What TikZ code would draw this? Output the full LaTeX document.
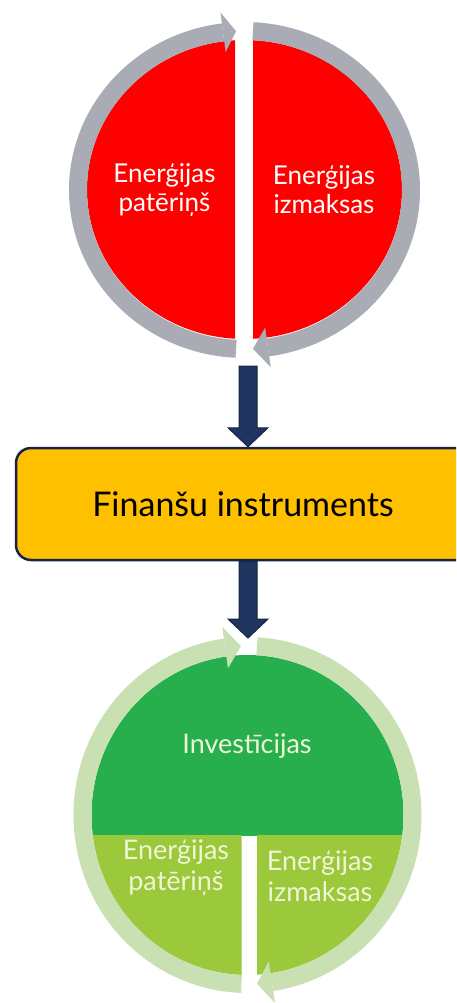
\documentclass[tikz,border=0pt]{standalone}
\usepackage{fontspec}
\setmainfont{Lato}
\usetikzlibrary{calc}
\definecolor{ringgray}{RGB}{169,172,181}
\definecolor{hotred}{RGB}{255,0,0}
\definecolor{navy}{RGB}{31,53,96}
\definecolor{navyedge}{RGB}{20,36,70}
\definecolor{amber}{RGB}{255,192,0}
\definecolor{darkgreen}{RGB}{38,175,76}
\definecolor{limegreen}{RGB}{156,200,60}
\definecolor{palegreen}{RGB}{200,224,178}
\definecolor{creamtext}{RGB}{238,246,214}
\tikzset{
  grayring/.style={draw=ringgray, line width=18pt, line cap=butt},
  greenring/.style={draw=palegreen, line width=18pt, line cap=butt},
  redtext/.style={text=white, align=center, font=\fontsize{26}{29}\selectfont},
  greentext/.style={text=creamtext, align=center, font=\fontsize{27}{31}\selectfont},
  finbox/.style={draw=navyedge, line width=2.5pt, fill=amber, rounded corners=15pt,
    minimum width=480pt, minimum height=112pt, font=\fontsize{34}{40}\selectfont},
  navyarrow/.style={fill=navy, draw=navyedge, line width=1pt, line join=miter}
}
\newcommand{\blockarrowdown}[2]{%
  \draw[navyarrow] ($(#1)+(-9pt,0)$) -- ($(#2)+(-9pt,19pt)$) -- ($(#2)+(-20pt,19pt)$) -- (#2)
    -- ($(#2)+(20pt,19pt)$) -- ($(#2)+(9pt,19pt)$) -- ($(#1)+(9pt,0)$) -- cycle;}
\begin{document}
\begin{tikzpicture}[x=1pt,y=1pt]
\useasboundingbox (0,0) rectangle (456,-1003);
\clip (0,0) rectangle (456,-1003);
% ---------- top circle ----------
\coordinate (c1) at (244.5,-190);
\coordinate (c1r) at (244.5,-189.5);
\begin{scope}
  \clip (0,0) rectangle (235,-400);
  \fill[hotred] (c1r) ellipse [x radius=157.5, y radius=149.5];
\end{scope}
\begin{scope}
  \clip (253,0) rectangle (456,-400);
  \fill[hotred] (c1r) ellipse [x radius=157.5, y radius=149.5];
\end{scope}
\draw[grayring] ($(c1)+(97.4:166.5pt and 159pt)$) arc[start angle=97.4, end angle=267.1, x radius=166.5, y radius=159];
\fill[ringgray] ($(c1)+(97.4:186.5pt and 179pt)$) -- ($(c1)+(92.9:166.5pt and 159pt)$) -- ($(c1)+(97.4:146.5pt and 139pt)$) -- cycle;
\draw[grayring] ($(c1)+(87.1:166.5pt and 159pt)$) arc[start angle=87.1, end angle=-81.9, x radius=166.5, y radius=159];
\fill[ringgray] ($(c1)+(-81.9:186.5pt and 179pt)$) -- ($(c1)+(-87.1:166.5pt and 159pt)$) -- ($(c1)+(-81.9:146.5pt and 139pt)$) -- cycle;
\node[redtext] (t1) at (164.5,-190) {Enerģijas\\patēriņš};
\node[redtext] (t2) at (324,-190) {Enerģijas\\izmaksas};
% ---------- box ----------
\node[finbox] (fin) at (256,-504) {\hspace*{-26pt}Finanšu instruments};
\coordinate (c1out) at (248,-366);
\coordinate (c2in) at (248,-638);
\blockarrowdown{c1out}{c1out |- fin.north}
\blockarrowdown{c1out |- fin.south}{c2in}
% ---------- bottom circle ----------
\coordinate (c2) at (247.5,-815);
\begin{scope}
  \clip (0,-600) rectangle (456,-835);
  \fill[darkgreen] (c2) ellipse [x radius=156, y radius=160];
\end{scope}
\begin{scope}
  \clip (0,-835) rectangle (241.5,-1003);
  \fill[limegreen] (c2) ellipse [x radius=156, y radius=160];
\end{scope}
\begin{scope}
  \clip (257,-835) rectangle (456,-1003);
  \fill[limegreen] (c2) ellipse [x radius=156, y radius=160];
\end{scope}
\draw[greenring] ($(c2)+(97.8:165pt and 169pt)$) arc[start angle=97.8, end angle=267.9, x radius=165, y radius=169];
\fill[palegreen] ($(c2)+(97.8:186pt and 190pt)$) -- ($(c2)+(92.3:165pt and 169pt)$) -- ($(c2)+(97.8:144pt and 148pt)$) -- cycle;
\draw[greenring] ($(c2)+(86.7:165pt and 169pt)$) arc[start angle=86.7, end angle=-81.5, x radius=165, y radius=169];
\fill[palegreen] ($(c2)+(-81.5:186pt and 190pt)$) -- ($(c2)+(-86.7:165pt and 169pt)$) -- ($(c2)+(-81.5:144pt and 148pt)$) -- cycle;
\node[greentext] (t3) at (247,-746) {Investīcijas};
\node[greentext] (t4) at (176,-868) {Enerģijas\\patēriņš};
\node[greentext] (t5) at (320,-876) {Enerģijas\\izmaksas};
\end{tikzpicture}
\end{document}
